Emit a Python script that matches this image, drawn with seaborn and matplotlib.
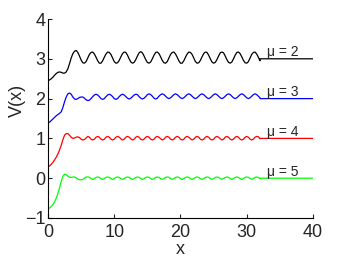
"""
Potential V(x) for several mu values, offset vertically.
"""

import numpy as np
import pandas as pd
import matplotlib
matplotlib.use('Agg')
import matplotlib.pyplot as plt
import seaborn as sns

# x sampled every 0.25 from 0 to 32, then a flat tail out to 40
x_grid = np.linspace(0, 32, 129)
x_tail = [32, 40]

mu_values = [2, 3, 4, 5]
mu_labels = ['\u03bc = 2', '\u03bc = 3', '\u03bc = 4', '\u03bc = 5']
tail_levels = [3, 2, 1, 0]
line_colors = ['#000000', '#0000ff', '#ff0000', '#00ff00']

v_mu2 = [
    2.45, 2.47, 2.50, 2.54, 2.59, 2.63, 2.66, 2.67, 2.66, 2.64, 2.64, 2.67,
    2.75, 2.88, 3.02, 3.13, 3.19,
    3.21, 3.16, 3.07, 2.97, 2.90, 2.89, 2.93, 3.02, 3.11, 3.16,
    3.17, 3.12, 3.04, 2.95, 2.89, 2.89, 2.95, 3.04, 3.12, 3.17,
    3.16, 3.11, 3.02, 2.93, 2.89, 2.90, 2.96, 3.05, 3.13, 3.17,
    3.16, 3.09, 3.00, 2.92, 2.89, 2.91, 2.98, 3.07, 3.15, 3.18,
    3.15, 3.07, 2.98, 2.91, 2.89, 2.92, 3.00, 3.09, 3.16,
    3.17, 3.13, 3.05, 2.96, 2.90, 2.89, 2.93, 3.02, 3.11, 3.16,
    3.17, 3.12, 3.04, 2.95, 2.89, 2.89, 2.95, 3.04, 3.12, 3.17,
    3.16, 3.11, 3.02, 2.93, 2.89, 2.90, 2.96, 3.05, 3.13, 3.17,
    3.16, 3.09, 3.00, 2.92, 2.89, 2.91, 2.98, 3.07, 3.15, 3.17,
    3.15, 3.07, 2.98, 2.91, 2.89, 2.92, 3.00, 3.09, 3.16,
    3.17, 3.13, 3.05, 2.96, 2.90, 2.89, 2.93, 3.02, 3.11, 3.16,
    3.17, 3.12, 3.04, 2.95,
]

v_mu3 = [
    1.38, 1.41, 1.45, 1.49, 1.53, 1.57, 1.60, 1.63, 1.67, 1.78, 1.92, 2.04,
    2.12,
    2.14, 2.11, 2.04, 1.99, 1.98, 2.00, 2.03, 2.04, 2.04, 2.01, 1.97, 1.95,
    1.96, 2.00, 2.05, 2.09,
    2.11, 2.09, 2.05, 2.00, 1.98, 2.00, 2.05, 2.09,
    2.11, 2.09, 2.05, 2.00, 1.98, 2.00, 2.05, 2.09,
    2.11, 2.09, 2.05, 2.01, 1.99, 2.01, 2.05, 2.09,
    2.11, 2.10, 2.05, 2.01, 1.99, 2.01, 2.05, 2.10,
    2.12, 2.10, 2.06, 2.01, 1.99, 2.01, 2.06, 2.10,
    2.12, 2.10, 2.06, 2.02, 2.00, 2.02, 2.06, 2.10,
    2.12, 2.10, 2.06, 2.02, 2.00, 2.02, 2.06, 2.10,
    2.12, 2.10, 2.06, 2.02, 2.00, 2.02, 2.06, 2.10,
    2.12, 2.10, 2.06, 2.02, 2.00, 2.02, 2.06, 2.10,
    2.12, 2.10, 2.06, 2.02, 2.00, 2.02, 2.06, 2.10,
    2.12, 2.10, 2.06, 2.02, 2.00, 2.02, 2.06, 2.10,
    2.12, 2.10, 2.06, 2.02, 2.00, 2.02, 2.06, 2.10,
    2.12, 2.10, 2.06, 2.02,
]

v_mu4 = [
    0.29, 0.31, 0.35, 0.40, 0.46, 0.53, 0.61, 0.71, 0.83, 0.97, 1.08, 1.12,
    1.12, 1.08, 1.03, 1.00, 1.01, 1.03, 1.04, 1.02, 0.98, 0.96, 0.97, 1.01,
    1.05, 1.03, 0.98, 0.96, 0.98, 1.03,
    1.05, 1.03, 0.98, 0.96, 0.98, 1.03,
    1.05, 1.03, 0.98, 0.96, 0.98, 1.03,
    1.05, 1.03, 0.99, 0.96, 0.98, 1.03,
    1.05, 1.03, 0.99, 0.96, 0.98, 1.03,
    1.05, 1.03, 0.98, 0.96, 0.98, 1.03,
    1.05, 1.03, 0.98, 0.96, 0.98, 1.03,
    1.05, 1.03, 0.99, 0.96, 0.98, 1.03,
    1.05, 1.03, 0.98, 0.96, 0.98, 1.03,
    1.05, 1.03, 0.98, 0.96, 0.98, 1.03,
    1.05, 1.03, 0.99, 0.96, 0.98, 1.03,
    1.05, 1.03, 0.98, 0.96, 0.98, 1.03,
    1.05, 1.03, 0.98, 0.96, 0.98, 1.03,
    1.05, 1.03, 0.99, 0.96, 0.98, 1.03,
    1.05, 1.03, 0.98, 0.96, 0.98, 1.03,
    1.05, 1.03, 0.98, 0.96, 0.98, 1.03,
    1.05, 1.03, 0.98, 0.96, 0.98, 1.03,
    1.05, 1.04, 0.99,
]

v_mu5 = [
    -0.77, -0.75, -0.71, -0.66, -0.59, -0.50, -0.38, -0.24, -0.08, 0.05,
    0.10,
    0.09, 0.05, 0.02, 0.02, 0.03, 0.03, 0.01, -0.02, -0.04, -0.04, -0.03,
    0.00, 0.03,
    0.03, 0.02, -0.01, -0.03, -0.01, 0.02,
    0.03, 0.02, -0.01, -0.03, -0.01, 0.02,
    0.03, 0.02, -0.01, -0.03, -0.01, 0.02,
    0.03, 0.02, -0.01, -0.03, -0.01, 0.02,
    0.03, 0.02, -0.01, -0.03, -0.01, 0.02,
    0.03, 0.02, -0.01, -0.03, -0.01, 0.02,
    0.03, 0.02, -0.01, -0.03, -0.01, 0.02,
    0.03, 0.02, -0.01, -0.03, -0.01, 0.02,
    0.03, 0.02, -0.01, -0.03, -0.01, 0.02,
    0.03, 0.02, -0.01, -0.03, -0.01, 0.02,
    0.03, 0.02, -0.01, -0.03, -0.01, 0.02,
    0.03, 0.02, -0.01, -0.03, -0.01, 0.02,
    0.03, 0.02, -0.01, -0.03, -0.01, 0.02,
    0.03, 0.02, -0.01, -0.03, -0.01, 0.02,
    0.03, 0.02, -0.01, -0.03, -0.01, 0.02,
    0.03, 0.02, -0.01, -0.03, -0.01, 0.02,
    0.03, 0.02, -0.01, -0.03, -0.01, 0.02,
    0.03, 0.02, -0.01,
]

series = [v_mu2, v_mu3, v_mu4, v_mu5]

sns.set_style('ticks')
plt.rcParams['font.family'] = ['Liberation Sans', 'DejaVu Sans']

fig = plt.figure(figsize=(3.46, 2.60), dpi=100)
ax = fig.add_axes([48 / 346, 42 / 260, 265 / 346, 199 / 260])

for mu, vals, level, color, label in zip(mu_values, series, tail_levels,
                                         line_colors, mu_labels):
    df = pd.DataFrame({
        'x': np.concatenate([x_grid, x_tail]),
        'V': np.concatenate([vals, [level, level]]),
    })
    sns.lineplot(data=df, x='x', y='V', ax=ax, color=color, lw=0.9,
                 estimator=None, sort=False)
    ax.text(33, level + 0.06, label, fontsize=10, va='baseline', ha='left')

ax.set_xlim(0, 40)
ax.set_ylim(-1, 4)
ax.set_xticks([0, 10, 20, 30, 40])
ax.set_yticks([-1, 0, 1, 2, 3, 4])
ax.set_xlabel('x', fontsize=13, labelpad=0)
ax.set_ylabel('V(x)', fontsize=13)
ax.yaxis.set_label_coords(-0.085, 0.59)
ax.tick_params(direction='in', length=3, width=0.8, labelsize=13)
ax.tick_params(axis='x', pad=4.5)
ax.tick_params(axis='y', pad=2)
sns.despine(ax=ax)
for s in ['left', 'bottom']:
    ax.spines[s].set_linewidth(0.8)
    ax.spines[s].set_color('black')

fig.savefig('out.png', dpi=100)
plt.close(fig)
